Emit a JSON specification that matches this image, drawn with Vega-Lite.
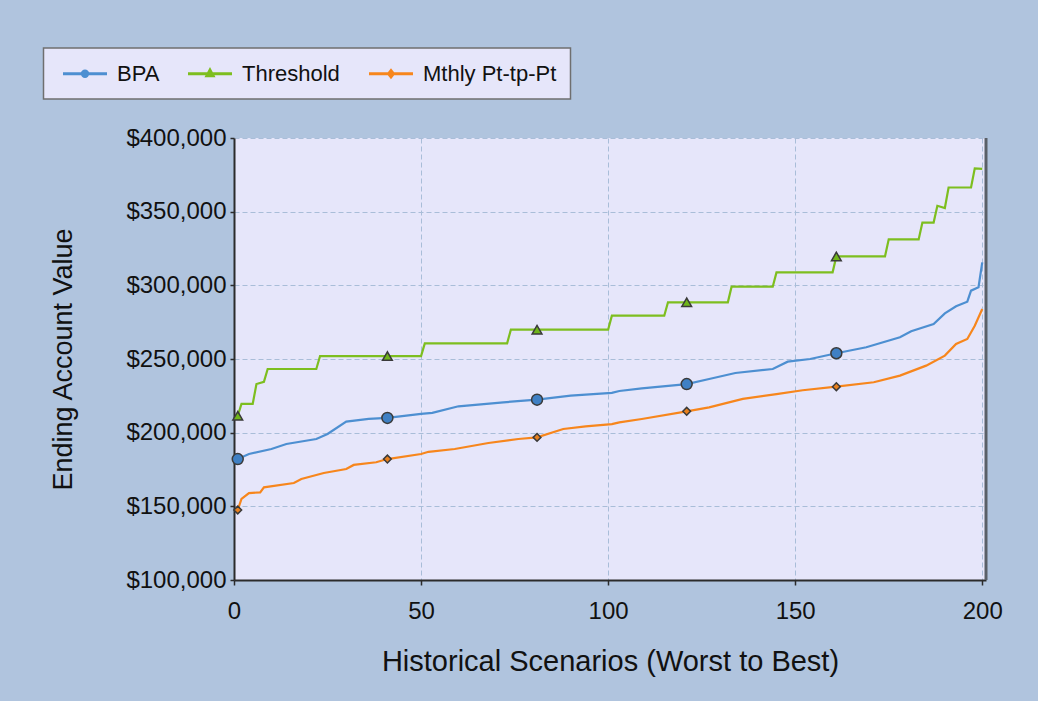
{
  "$schema": "https://vega.github.io/schema/vega-lite/v6.json",
  "width": 752,
  "height": 442,
  "autosize": {"type": "none"},
  "padding": {"left": 234, "top": 138, "right": 52, "bottom": 121},
  "background": "#B0C4DE",
  "config": {
    "font": "Liberation Sans",
    "view": {"fill": "#E6E6FA", "stroke": null},
    "axis": {
      "domainColor": "#2b2b2b",
      "domainWidth": 2,
      "tickColor": "#2b2b2b",
      "tickWidth": 1.5,
      "labelColor": "#111111",
      "labelFont": "Liberation Sans",
      "labelFontSize": 24,
      "titleFont": "Liberation Sans",
      "titleFontWeight": "normal",
      "titleColor": "#111111",
      "gridColor": "#A9BDD8",
      "gridDash": [5, 3],
      "gridWidth": 1
    },
    "legend": {
      "orient": "none",
      "legendX": -190.5,
      "legendY": -90,
      "direction": "horizontal",
      "fillColor": "#E6E6FA",
      "strokeColor": "#6f6f6f",
      "strokeWidth": 1.5,
      "padding": 14,
      "labelFont": "Liberation Sans",
      "labelFontSize": 22,
      "labelColor": "#111111",
      "labelOffset": 20.5,
      "symbolOffset": 16,
      "columnPadding": 22,
      "symbolSize": 400,
      "symbolStrokeWidth": 3,
      "symbolType": "M-2.2,0H2.2"
    }
  },
  "data": {
    "values": [
      {"x": 1, "value": 182100, "series": "BPA"},
      {"x": 4, "value": 185500, "series": "BPA"},
      {"x": 10, "value": 188900, "series": "BPA"},
      {"x": 14, "value": 192300, "series": "BPA"},
      {"x": 22, "value": 195700, "series": "BPA"},
      {"x": 25, "value": 199100, "series": "BPA"},
      {"x": 30, "value": 207500, "series": "BPA"},
      {"x": 36, "value": 209300, "series": "BPA"},
      {"x": 41, "value": 210000, "series": "BPA"},
      {"x": 50, "value": 212700, "series": "BPA"},
      {"x": 53, "value": 213400, "series": "BPA"},
      {"x": 60, "value": 217900, "series": "BPA"},
      {"x": 72, "value": 220600, "series": "BPA"},
      {"x": 81, "value": 222400, "series": "BPA"},
      {"x": 90, "value": 225100, "series": "BPA"},
      {"x": 101, "value": 227000, "series": "BPA"},
      {"x": 103, "value": 228300, "series": "BPA"},
      {"x": 109, "value": 230100, "series": "BPA"},
      {"x": 121, "value": 233000, "series": "BPA"},
      {"x": 127, "value": 236400, "series": "BPA"},
      {"x": 134, "value": 240500, "series": "BPA"},
      {"x": 144, "value": 243200, "series": "BPA"},
      {"x": 148, "value": 248200, "series": "BPA"},
      {"x": 154, "value": 250000, "series": "BPA"},
      {"x": 161, "value": 253900, "series": "BPA"},
      {"x": 169, "value": 258000, "series": "BPA"},
      {"x": 178, "value": 264700, "series": "BPA"},
      {"x": 181, "value": 268800, "series": "BPA"},
      {"x": 187, "value": 273800, "series": "BPA"},
      {"x": 190, "value": 281000, "series": "BPA"},
      {"x": 193, "value": 285800, "series": "BPA"},
      {"x": 196, "value": 288900, "series": "BPA"},
      {"x": 197, "value": 296400, "series": "BPA"},
      {"x": 199, "value": 298700, "series": "BPA"},
      {"x": 200, "value": 315600, "series": "BPA"},

      {"x": 1, "value": 211500, "series": "Threshold"},
      {"x": 2, "value": 219500, "series": "Threshold"},
      {"x": 5, "value": 219500, "series": "Threshold"},
      {"x": 6, "value": 233000, "series": "Threshold"},
      {"x": 8, "value": 234500, "series": "Threshold"},
      {"x": 9, "value": 243200, "series": "Threshold"},
      {"x": 22, "value": 243200, "series": "Threshold"},
      {"x": 23, "value": 252000, "series": "Threshold"},
      {"x": 41, "value": 252000, "series": "Threshold"},
      {"x": 50, "value": 252000, "series": "Threshold"},
      {"x": 51, "value": 260600, "series": "Threshold"},
      {"x": 73, "value": 260600, "series": "Threshold"},
      {"x": 74, "value": 269900, "series": "Threshold"},
      {"x": 81, "value": 269900, "series": "Threshold"},
      {"x": 100, "value": 269900, "series": "Threshold"},
      {"x": 101, "value": 279400, "series": "Threshold"},
      {"x": 115, "value": 279400, "series": "Threshold"},
      {"x": 116, "value": 288500, "series": "Threshold"},
      {"x": 121, "value": 288500, "series": "Threshold"},
      {"x": 132, "value": 288500, "series": "Threshold"},
      {"x": 133, "value": 299100, "series": "Threshold"},
      {"x": 144, "value": 299100, "series": "Threshold"},
      {"x": 145, "value": 308800, "series": "Threshold"},
      {"x": 160, "value": 308800, "series": "Threshold"},
      {"x": 161, "value": 319600, "series": "Threshold"},
      {"x": 174, "value": 319600, "series": "Threshold"},
      {"x": 175, "value": 331200, "series": "Threshold"},
      {"x": 183, "value": 331200, "series": "Threshold"},
      {"x": 184, "value": 342600, "series": "Threshold"},
      {"x": 187, "value": 342600, "series": "Threshold"},
      {"x": 188, "value": 354000, "series": "Threshold"},
      {"x": 190, "value": 352500, "series": "Threshold"},
      {"x": 191, "value": 366400, "series": "Threshold"},
      {"x": 197, "value": 366400, "series": "Threshold"},
      {"x": 198, "value": 379400, "series": "Threshold"},
      {"x": 200, "value": 379000, "series": "Threshold"},

      {"x": 1, "value": 147500, "series": "Mthly Pt-tp-Pt"},
      {"x": 2, "value": 155000, "series": "Mthly Pt-tp-Pt"},
      {"x": 4, "value": 159000, "series": "Mthly Pt-tp-Pt"},
      {"x": 7, "value": 159500, "series": "Mthly Pt-tp-Pt"},
      {"x": 8, "value": 162900, "series": "Mthly Pt-tp-Pt"},
      {"x": 16, "value": 165800, "series": "Mthly Pt-tp-Pt"},
      {"x": 18, "value": 168600, "series": "Mthly Pt-tp-Pt"},
      {"x": 24, "value": 172600, "series": "Mthly Pt-tp-Pt"},
      {"x": 30, "value": 175300, "series": "Mthly Pt-tp-Pt"},
      {"x": 32, "value": 178100, "series": "Mthly Pt-tp-Pt"},
      {"x": 38, "value": 179900, "series": "Mthly Pt-tp-Pt"},
      {"x": 41, "value": 182100, "series": "Mthly Pt-tp-Pt"},
      {"x": 50, "value": 185500, "series": "Mthly Pt-tp-Pt"},
      {"x": 52, "value": 187000, "series": "Mthly Pt-tp-Pt"},
      {"x": 59, "value": 188900, "series": "Mthly Pt-tp-Pt"},
      {"x": 68, "value": 193000, "series": "Mthly Pt-tp-Pt"},
      {"x": 76, "value": 195700, "series": "Mthly Pt-tp-Pt"},
      {"x": 81, "value": 196800, "series": "Mthly Pt-tp-Pt"},
      {"x": 88, "value": 202500, "series": "Mthly Pt-tp-Pt"},
      {"x": 94, "value": 204300, "series": "Mthly Pt-tp-Pt"},
      {"x": 101, "value": 205800, "series": "Mthly Pt-tp-Pt"},
      {"x": 103, "value": 207000, "series": "Mthly Pt-tp-Pt"},
      {"x": 109, "value": 209300, "series": "Mthly Pt-tp-Pt"},
      {"x": 121, "value": 214500, "series": "Mthly Pt-tp-Pt"},
      {"x": 127, "value": 217200, "series": "Mthly Pt-tp-Pt"},
      {"x": 136, "value": 222900, "series": "Mthly Pt-tp-Pt"},
      {"x": 145, "value": 226200, "series": "Mthly Pt-tp-Pt"},
      {"x": 152, "value": 228800, "series": "Mthly Pt-tp-Pt"},
      {"x": 161, "value": 231200, "series": "Mthly Pt-tp-Pt"},
      {"x": 171, "value": 234200, "series": "Mthly Pt-tp-Pt"},
      {"x": 178, "value": 238700, "series": "Mthly Pt-tp-Pt"},
      {"x": 185, "value": 245500, "series": "Mthly Pt-tp-Pt"},
      {"x": 190, "value": 252300, "series": "Mthly Pt-tp-Pt"},
      {"x": 193, "value": 260200, "series": "Mthly Pt-tp-Pt"},
      {"x": 196, "value": 263600, "series": "Mthly Pt-tp-Pt"},
      {"x": 198, "value": 272600, "series": "Mthly Pt-tp-Pt"},
      {"x": 200, "value": 283900, "series": "Mthly Pt-tp-Pt"}
    ]
  },
  "layer": [
    {
      "mark": {"type": "line", "strokeWidth": 2.2},
      "encoding": {
        "x": {
          "field": "x", "type": "quantitative",
          "scale": {"domain": [0, 201], "nice": false},
          "axis": {
            "values": [0, 50, 100, 150, 200],
            "title": "Historical Scenarios (Worst to Best)",
            "titleFontSize": 29,
            "titlePadding": 24,
            "tickSize": 5,
            "labelPadding": 14,
            "labelFlush": false
          }
        },
        "y": {
          "field": "value", "type": "quantitative",
          "scale": {"domain": [100000, 400000], "nice": false, "zero": false},
          "axis": {
            "values": [100000, 150000, 200000, 250000, 300000, 350000, 400000],
            "format": "$,.0f",
            "title": "Ending Account Value",
            "titleFontSize": 27,
            "titlePadding": 48,
            "tickSize": 4,
            "labelPadding": 4
          }
        },
        "color": {
          "field": "series", "type": "nominal",
          "scale": {
            "domain": ["BPA", "Threshold", "Mthly Pt-tp-Pt"],
            "range": ["#4D8FD1", "#7DBE1F", "#F7861C"]
          },
          "legend": {
            "title": null,
            "encode": {
              "entries": {
                "update": {
                  "width": {"signal": "datum.value === 'Mthly Pt-tp-Pt' ? 213 : 0"}
                }
              },
              "symbols": {
                "update": {
                  "shape": {"signal": "datum.value === 'BPA' ? 'M-2.2,0H2.2M0.27,0A0.27,0.27 0 1 1 -0.27,0A0.27,0.27 0 1 1 0.27,0Z' : datum.value === 'Threshold' ? 'M-2.2,0H2.2M0,-0.36L0.3,0.2L-0.3,0.2Z' : 'M-2.2,0H2.2M0,-0.3L0.24,0L0,0.3L-0.24,0Z'"},
                  "fill": {"signal": "scale('color', datum.value)"},
                  "stroke": {"signal": "scale('color', datum.value)"},
                  "strokeWidth": {"value": 3}
                }
              }
            }
          }
        }
      }
    },
    {
      "transform": [
        {"filter": "datum.series === 'BPA'"},
        {"filter": "indexof([1, 41, 81, 121, 161], datum.x) >= 0"}
      ],
      "mark": {"type": "point", "shape": "circle", "filled": true, "fill": "#3F80C4", "stroke": "#3a3a3a", "strokeWidth": 1.5, "opacity": 1, "size": 120},
      "encoding": {
        "x": {"field": "x", "type": "quantitative"},
        "y": {"field": "value", "type": "quantitative"}
      }
    },
    {
      "transform": [
        {"filter": "datum.series === 'Threshold'"},
        {"filter": "indexof([1, 41, 81, 121, 161], datum.x) >= 0"}
      ],
      "mark": {"type": "point", "shape": "triangle-up", "filled": true, "fill": "#6FB51A", "stroke": "#3a3a3a", "strokeWidth": 1.5, "opacity": 1, "size": 95},
      "encoding": {
        "x": {"field": "x", "type": "quantitative"},
        "y": {"field": "value", "type": "quantitative"}
      }
    },
    {
      "transform": [
        {"filter": "datum.series === 'Mthly Pt-tp-Pt'"},
        {"filter": "indexof([1, 41, 81, 121, 161], datum.x) >= 0"}
      ],
      "mark": {"type": "point", "shape": "diamond", "filled": true, "fill": "#E8801E", "stroke": "#3a3a3a", "strokeWidth": 1.5, "opacity": 1, "size": 60},
      "encoding": {
        "x": {"field": "x", "type": "quantitative"},
        "y": {"field": "value", "type": "quantitative"}
      }
    },
    {
      "data": {"values": [{"edge": 201}]},
      "mark": {"type": "rule", "color": "#5a6068", "strokeWidth": 3},
      "encoding": {"x": {"field": "edge", "type": "quantitative"}}
    }
  ]
}
